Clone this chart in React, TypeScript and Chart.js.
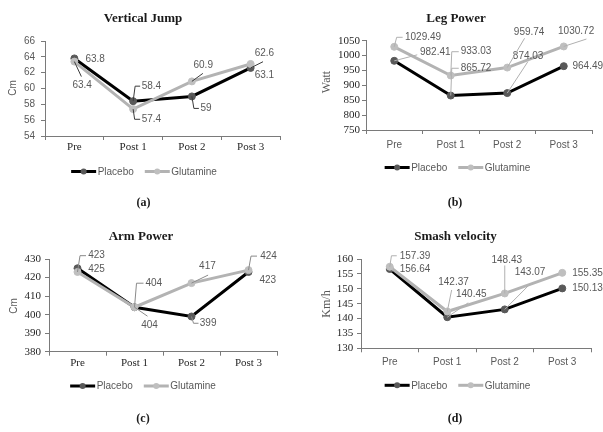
import React, { useEffect, useRef } from "react";
import { Chart, registerables } from "chart.js";

Chart.register(...registerables);

// ---------- data ----------
const categories = ["Pre", "Post 1", "Post 2", "Post 3"];
const seriesNames = ["Placebo", "Glutamine"];

const jumpPlacebo = [63.8, 58.4, 59, 62.6];
const jumpGlutamine = [63.4, 57.4, 60.9, 63.1];
const jumpAxis = [54, 66, 2]; // min, max, step

const legPlacebo = [982.41, 865.72, 874.03, 964.49];
const legGlutamine = [1029.49, 933.03, 959.74, 1030.72];
const legAxis = [750, 1050, 50];

const armPlacebo = [425, 404, 399, 423];
const armGlutamine = [423, 404, 417, 424];
const armAxis = [380, 430, 10];

const smashPlacebo = [156.64, 140.45, 143.07, 150.13];
const smashGlutamine = [157.39, 142.37, 148.43, 155.35];
const smashAxis = [130, 160, 5];

// ---------- styles ----------
const SANS = '"Liberation Sans", Arial, sans-serif';
const SERIF = '"Liberation Serif", "Times New Roman", serif';
const AXIS_COLOR = "#7a7a7a";
const LABEL_COLOR = "#595959";
const SERIES_LINE = ["#000000", "#b3b3b3"];
const SERIES_MARK = ["#595959", "#bfbfbf"];

type LabelSpec = { dx: number; dy: number; leader?: number[][] };

interface Panel {
  left: number; top: number; w: number; h: number;
  plot: { l: number; r: number; t: number; b: number };
  title: string; titleX: number; titleY: number;
  caption: string; captionX: number; captionY: number;
  legendX: number; legendY: number;
  yTitle: string; yTitleFont: string; yTitleX: number; yTitleY: number;
  axis: number[];
  placebo: number[]; glutamine: number[];
  yTickFont: { family: string; size: number }; yTickColor: string; yPad: number;
  xTickFont: { family: string; size: number }; xTickColor: string; xPad: number;
  leaderColor: string;
  labels: LabelSpec[][];
}

const panels: Panel[] = [
  {
    left: 0, top: 0, w: 300, h: 216,
    plot: { l: 45, r: 280, t: 41, b: 136 },
    title: "Vertical Jump", titleX: 143, titleY: 18.5,
    caption: "(a)", captionX: 143.5, captionY: 203.3,
    legendX: 144, legendY: 171.5,
    yTitle: "Cm", yTitleFont: `10px ${SANS}`, yTitleX: 13, yTitleY: 88,
    axis: jumpAxis, placebo: jumpPlacebo, glutamine: jumpGlutamine,
    yTickFont: { family: SANS, size: 10 }, yTickColor: LABEL_COLOR, yPad: 6,
    xTickFont: { family: SERIF, size: 11 }, xTickColor: "#262626", xPad: 0.5,
    leaderColor: "#3a3a3a",
    labels: [
      [
        { dx: 11, dy: 1 },
        { dx: 8.5, dy: -15, leader: [[2, -15], [7, -15]] },
        { dx: 8.5, dy: 12, leader: [[2, 12], [7, 12]] },
        { dx: 4, dy: -14.6, leader: [[12.4, -6.2]] },
      ],
      [
        { dx: -2, dy: 23.4, leader: [[7, 15]] },
        { dx: 8.5, dy: 10.2, leader: [[1.5, 10.2], [7, 10.2]] },
        { dx: 1.6, dy: -16.4, leader: [[11, -8]] },
        { dx: 4, dy: 11 },
      ],
    ],
  },
  {
    left: 300, top: 0, w: 303, h: 216,
    plot: { l: 66, r: 292, t: 40.7, b: 130 },
    title: "Leg Power", titleX: 156, titleY: 19,
    caption: "(b)", captionX: 155, captionY: 202.8,
    legendX: 157.5, legendY: 167.5,
    yTitle: "Watt", yTitleFont: `12px ${SERIF}`, yTitleX: 27, yTitleY: 82,
    axis: legAxis, placebo: legPlacebo, glutamine: legGlutamine,
    yTickFont: { family: SERIF, size: 11 }, yTickColor: "#262626", yPad: 2,
    xTickFont: { family: SANS, size: 10 }, xTickColor: LABEL_COLOR, xPad: 5,
    leaderColor: "#b0b0b0",
    labels: [
      [
        { dx: 25.7, dy: -8.5, leader: [[23, -6]] },
        { dx: 10, dy: -27.3, leader: [[1, -27.3], [8, -27.3]] },
        { dx: 5.6, dy: -36.4, leader: [[20.6, -31.4]] },
        { dx: 8.7, dy: 0.5 },
      ],
      [
        { dx: 10.7, dy: -9.5, leader: [[2.4, -9.5], [8.4, -9.5]] },
        { dx: 10, dy: -23.8, leader: [[1, -23.8], [8, -23.8]] },
        { dx: 6.6, dy: -35.3, leader: [[17.3, -29.3]] },
        { dx: -5.7, dy: -14.7, leader: [[22.7, -7.4]] },
      ],
    ],
  },
  {
    left: 0, top: 216, w: 300, h: 216,
    plot: { l: 49, r: 277, t: 43, b: 135.7 },
    title: "Arm Power", titleX: 141, titleY: 21,
    caption: "(c)", captionX: 143, captionY: 203.3,
    legendX: 143, legendY: 170,
    yTitle: "Cm", yTitleFont: `10px ${SANS}`, yTitleX: 14, yTitleY: 90,
    axis: armAxis, placebo: armPlacebo, glutamine: armGlutamine,
    yTickFont: { family: SERIF, size: 11 }, yTickColor: "#262626", yPad: 4,
    xTickFont: { family: SERIF, size: 11 }, xTickColor: "#262626", xPad: 0.5,
    leaderColor: "#8a8a8a",
    labels: [
      [
        { dx: 10.7, dy: 1 },
        { dx: 11, dy: -24, leader: [[2, -24], [9, -24]] },
        { dx: 8.3, dy: 6.8, leader: [[2, 6.8], [7, 6.8]] },
        { dx: 11, dy: 8 },
      ],
      [
        { dx: 10.7, dy: -16.3, leader: [[2.5, -16.3], [8.5, -16.3]] },
        { dx: 6.7, dy: 17.8, leader: [[13, 9]] },
        { dx: 7.6, dy: -16.4, leader: [[16.6, -8]] },
        { dx: 11.7, dy: -14, leader: [[2.5, -14], [8.5, -14]] },
      ],
    ],
  },
  {
    left: 300, top: 216, w: 303, h: 216,
    plot: { l: 61, r: 291, t: 43, b: 132.3 },
    title: "Smash velocity", titleX: 155.5, titleY: 21,
    caption: "(d)", captionX: 155, captionY: 203,
    legendX: 157.5, legendY: 169.3,
    yTitle: "Km/h", yTitleFont: `12px ${SERIF}`, yTitleX: 27, yTitleY: 88,
    axis: smashAxis, placebo: smashPlacebo, glutamine: smashGlutamine,
    yTickFont: { family: SERIF, size: 11 }, yTickColor: "#262626", yPad: 3.7,
    xTickFont: { family: SANS, size: 10 }, xTickColor: LABEL_COLOR, xPad: 4.4,
    leaderColor: "#b0b0b0",
    labels: [
      [
        { dx: 10, dy: 0 },
        { dx: 8.7, dy: -23.1, leader: [[21, -14.4]] },
        { dx: 10, dy: -37.1, leader: [[25, -25.1]] },
        { dx: 10, dy: 0 },
      ],
      [
        { dx: 10, dy: -11, leader: [[1.7, -11], [7, -11]] },
        { dx: -9, dy: -29.2, leader: [[4.4, -21.5]] },
        { dx: -13.3, dy: -33.4, leader: [[0, -28]] },
        { dx: 10, dy: 0.5 },
      ],
    ],
  },
];

const XH = 20;

function makeExtras(p: Panel) {
  return {
    id: "extras",
    afterDatasetsDraw(chart: any) {
      const ctx = chart.ctx as CanvasRenderingContext2D;
      ctx.save();
      ctx.font = `10px ${SANS}`;
      ctx.textAlign = "left";
      ctx.textBaseline = "middle";
      [0, 1].forEach((di) => {
        const meta = chart.getDatasetMeta(di);
        const values = chart.data.datasets[di].data as number[];
        meta.data.forEach((pt: any, j: number) => {
          const spec = p.labels[di][j];
          if (!spec) return;
          const x = pt.x, y = pt.y;
          if (spec.leader) {
            ctx.strokeStyle = p.leaderColor;
            ctx.lineWidth = 1;
            ctx.beginPath();
            ctx.moveTo(x, y);
            spec.leader.forEach(([lx, ly]) => ctx.lineTo(x + lx, y + ly));
            ctx.stroke();
          }
          ctx.fillStyle = LABEL_COLOR;
          ctx.fillText(String(values[j]), x + spec.dx, y + spec.dy);
        });
      });
      ctx.restore();
    },
    afterDraw(chart: any) {
      const ctx = chart.ctx as CanvasRenderingContext2D;
      ctx.save();
      // title
      ctx.font = `bold 13px ${SERIF}`;
      ctx.fillStyle = "#1a1a1a";
      ctx.textAlign = "center";
      ctx.textBaseline = "middle";
      ctx.fillText(p.title, p.titleX, p.titleY);
      // caption
      ctx.font = `bold 12px ${SERIF}`;
      ctx.fillText(p.caption, p.captionX, p.captionY);
      // y title
      ctx.save();
      ctx.translate(p.yTitleX, p.yTitleY);
      ctx.rotate(-Math.PI / 2);
      ctx.font = p.yTitleFont;
      ctx.fillStyle = LABEL_COLOR;
      ctx.fillText(p.yTitle, 0, 0);
      ctx.restore();
      // legend
      ctx.font = `10px ${SANS}`;
      const lineLen = 25;
      const gapText = 1.5;
      const gapItem = 11;
      const widths = seriesNames.map((n) => ctx.measureText(n).width);
      const total =
        widths.reduce((a, b) => a + b, 0) + seriesNames.length * (lineLen + gapText) + gapItem;
      let x = p.legendX - total / 2;
      const y = p.legendY;
      seriesNames.forEach((n, i) => {
        ctx.strokeStyle = SERIES_LINE[i];
        ctx.lineWidth = 3;
        ctx.beginPath();
        ctx.moveTo(x, y);
        ctx.lineTo(x + lineLen, y);
        ctx.stroke();
        ctx.fillStyle = SERIES_MARK[i];
        ctx.beginPath();
        ctx.arc(x + lineLen / 2, y, 3, 0, Math.PI * 2);
        ctx.fill();
        ctx.fillStyle = LABEL_COLOR;
        ctx.textAlign = "left";
        ctx.fillText(n, x + lineLen + gapText, y + 0.5);
        x += lineLen + gapText + widths[i] + gapItem;
      });
      ctx.restore();
    },
  };
}

function PanelChart({ p }: { p: Panel }) {
  const ref = useRef<HTMLCanvasElement | null>(null);
  useEffect(() => {
    if (!ref.current) return;
    const [min, max, step] = p.axis;
    const chart = new Chart(ref.current, {
      type: "line",
      data: {
        labels: categories,
        datasets: [
          {
            label: seriesNames[0],
            data: p.placebo,
            borderColor: SERIES_LINE[0],
            borderWidth: 3,
            pointRadius: 3.5,
            pointBackgroundColor: SERIES_MARK[0],
            pointBorderColor: SERIES_MARK[0],
            pointBorderWidth: 1,
            tension: 0,
            order: 1,
          },
          {
            label: seriesNames[1],
            data: p.glutamine,
            borderColor: SERIES_LINE[1],
            borderWidth: 3,
            pointRadius: 3.5,
            pointBackgroundColor: SERIES_MARK[1],
            pointBorderColor: SERIES_MARK[1],
            pointBorderWidth: 1,
            tension: 0,
            order: 0,
          },
        ],
      },
      options: {
        responsive: false,
        animation: false,
        events: [],
        layout: {
          padding: {
            left: 0,
            top: p.plot.t,
            right: p.w - p.plot.r,
            bottom: p.h - p.plot.b - XH,
          },
        },
        plugins: {
          legend: { display: false },
          title: { display: false },
          tooltip: { enabled: false },
        },
        scales: {
          x: {
            type: "category",
            offset: true,
            grid: {
              display: true,
              offset: true,
              drawOnChartArea: false,
              drawTicks: true,
              tickLength: 4,
              color: AXIS_COLOR,
            },
            border: { display: true, color: AXIS_COLOR, width: 1 },
            ticks: {
              font: p.xTickFont,
              color: p.xTickColor,
              padding: p.xPad,
              maxRotation: 0,
              autoSkip: false,
            },
            afterFit: (s: any) => {
              s.height = XH;
            },
          },
          y: {
            min,
            max,
            grid: {
              display: true,
              drawOnChartArea: false,
              drawTicks: true,
              tickLength: 4,
              color: AXIS_COLOR,
            },
            border: { display: true, color: AXIS_COLOR, width: 1 },
            ticks: {
              stepSize: step,
              font: p.yTickFont,
              color: p.yTickColor,
              padding: p.yPad,
              autoSkip: false,
              callback: (v: any) => String(v),
            },
            afterFit: (s: any) => {
              s.width = p.plot.l;
            },
          },
        },
      } as any,
      plugins: [makeExtras(p)],
    });
    return () => chart.destroy();
  }, [p]);
  return (
    <canvas
      ref={ref}
      width={p.w}
      height={p.h}
      style={{
        position: "absolute",
        left: p.left,
        top: p.top,
        width: p.w,
        height: p.h,
      }}
    />
  );
}

export default function App() {
  return (
    <div
      style={{
        position: "fixed",
        left: 0,
        top: 0,
        width: 603,
        height: 432,
        background: "#ffffff",
        overflow: "hidden",
      }}
    >
      {panels.map((p, i) => (
        <PanelChart key={i} p={p} />
      ))}
    </div>
  );
}
